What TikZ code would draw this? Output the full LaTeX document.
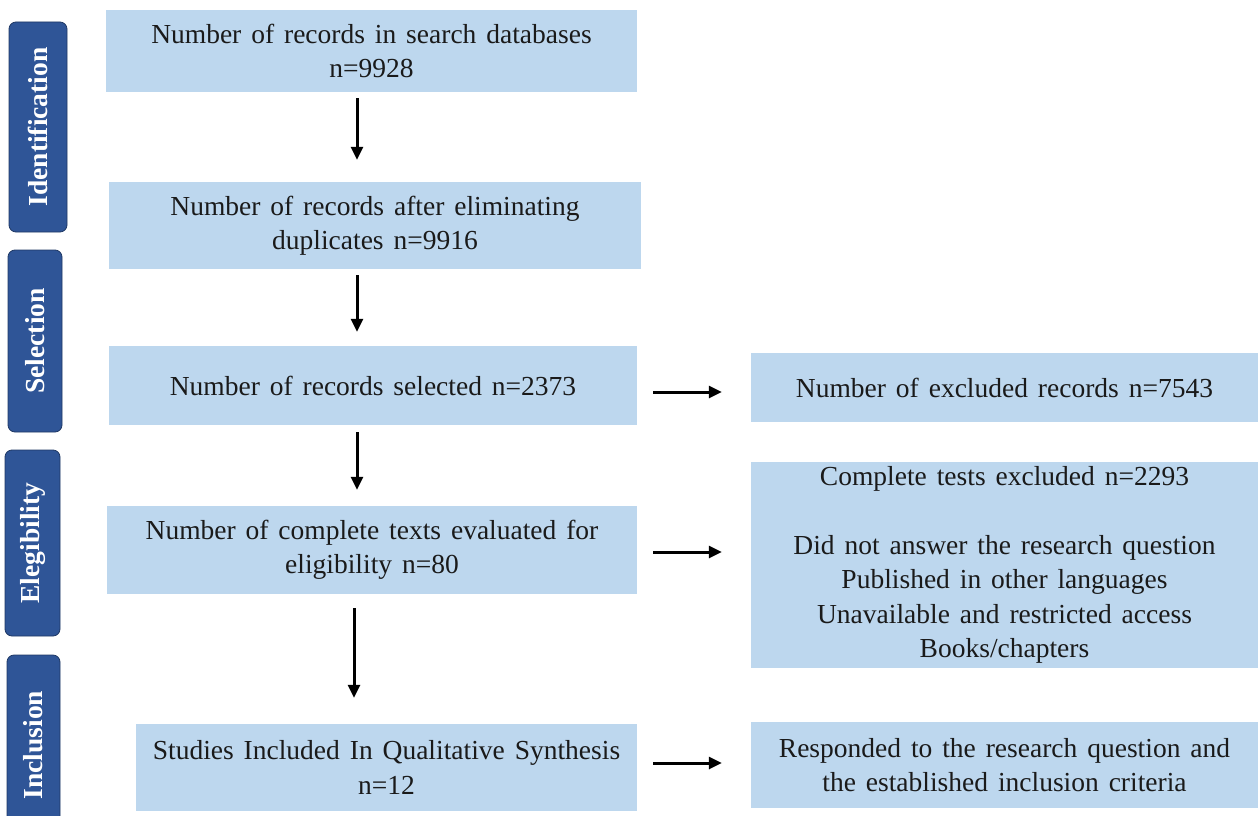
\documentclass[tikz,border=0pt]{standalone}
\usepackage{fontspec}
\setmainfont{Liberation Serif}
\usetikzlibrary{arrows.meta,positioning}
\definecolor{boxblue}{HTML}{BDD7EE}
\definecolor{tabblue}{HTML}{2F5597}
\definecolor{tabedge}{HTML}{1F3864}
\definecolor{textdark}{HTML}{1A1A1A}
\newcommand{\boxfont}{\fontsize{27.5}{34.5}\selectfont\spaceskip=0.36em\relax}

\begin{document}
\begin{tikzpicture}[
		x=1pt, y=-1pt,
		>={Triangle[length=13pt,width=12pt]},
		box/.style={fill=boxblue, align=center, inner sep=0pt, text=textdark,
				font=\boxfont},
		tab/.style={draw=tabedge, fill=tabblue, rounded corners=7pt,
				line width=0.8pt, rotate=90, inner sep=0pt, text=white,
				font=\bfseries\fontsize{27.5}{30}\selectfont},
		arrow/.style={->, line width=3pt, black},
	]
	\useasboundingbox (0,0) rectangle (1258,816);

	% phase tabs
	\node[tab, minimum width=210pt, minimum height=58pt] (ident) at (38,127) {Identification};
	\node[tab, minimum width=182pt, minimum height=54pt] (select) at (35,341) {Selection};
	\node[tab, minimum width=186pt, minimum height=55pt] (elig) at (32.5,543) {Elegibility};
	\node[tab, minimum width=180pt, minimum height=53pt] (incl) at (33.5,745) {Inclusion};

	% main column
	\node[box, minimum width=531pt, minimum height=82pt] (search) at (371.5,51)
	{Number of records in search databases\\n=9928};
	\node[box, minimum width=532pt, minimum height=87pt] (dupl) at (375,225.5)
	{Number of records after eliminating\\duplicates n=9916};
	\node[box, minimum width=528pt, minimum height=79pt] (selected) at (373,385.5)
	{Number of records selected n=2373};
	\node[box, minimum width=530pt, minimum height=88pt] (full) at (372,550)
	{Number of complete texts evaluated for\\eligibility n=80};
	\node[box, minimum width=501pt, minimum height=87pt] (synth) at (386.5,767.5)
	{Studies Included In Qualitative Synthesis\\n=12};

	% right column
	\node[box, minimum width=507pt, minimum height=69pt] (excl) at (1004.5,387.5)
	{Number of excluded records n=7543};
	\node[box, minimum width=507pt, minimum height=206pt] (reasons) at (1004.5,565)
	{Complete tests excluded n=2293\\[34.5pt]Did not answer the research question\\
		Published in other languages\\Unavailable and restricted access\\Books/chapters};
	\node[box, minimum width=507pt, minimum height=86pt] (criteria) at (1004.5,765)
	{Responded to the research question and\\the established inclusion criteria};

	\coordinate (ax) at (357,0);
	\coordinate (bx) at (354,0);

	\draw[arrow, shorten <=6pt, shorten >=22pt] (search.south -| ax) -- (dupl.north -| ax);
	\draw[arrow, shorten <=6pt, shorten >=14pt] (dupl.south -| ax) -- (selected.north -| ax);
	\draw[arrow, shorten <=7pt, shorten >=16pt] (selected.south -| ax) -- (full.north -| ax);
	\draw[arrow, shorten <=14pt, shorten >=26pt] (full.south -| bx) -- (synth.north -| bx);

	\draw[arrow, shorten <=16pt, shorten >=29pt] ([yshift=-6.5pt]selected.east) -- ([yshift=-6.5pt]selected.east -| excl.west);
	\draw[arrow, shorten <=16pt, shorten >=29pt] ([yshift=-2pt]full.east) -- ([yshift=-2pt]full.east -| reasons.west);
	\draw[arrow, shorten <=16pt, shorten >=29pt] ([yshift=4.5pt]synth.east) -- ([yshift=4.5pt]synth.east -| criteria.west);

\end{tikzpicture}
\end{document}
